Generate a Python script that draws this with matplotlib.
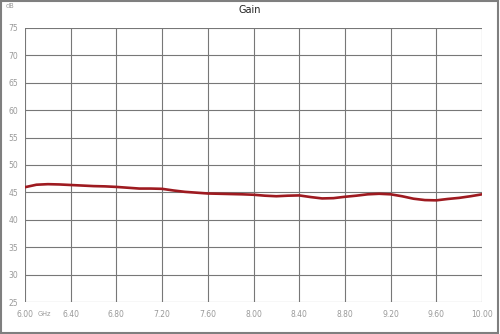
import numpy as np
import matplotlib
matplotlib.use("Agg")
import matplotlib.pyplot as plt
from matplotlib.patches import Rectangle

freq_ghz = [6.0, 6.1, 6.2, 6.3, 6.4, 6.5, 6.6, 6.7, 6.8, 6.9,
            7.0, 7.1, 7.2, 7.3, 7.4, 7.5, 7.6, 7.7, 7.8, 7.9,
            8.0, 8.1, 8.2, 8.3, 8.4, 8.5, 8.6, 8.7, 8.8, 8.9,
            9.0, 9.1, 9.2, 9.3, 9.4, 9.5, 9.6, 9.7, 9.8, 9.9, 10.0]
gain_db = [45.95, 46.4, 46.5, 46.45, 46.35, 46.25, 46.15, 46.1, 46.0, 45.85,
           45.7, 45.7, 45.65, 45.35, 45.1, 44.95, 44.8, 44.75, 44.7, 44.65,
           44.57, 44.4, 44.3, 44.4, 44.45, 44.15, 43.9, 43.95, 44.2, 44.4,
           44.65, 44.75, 44.65, 44.3, 43.85, 43.6, 43.55, 43.8, 44.0, 44.3, 44.65]
x_ticks = [6.0, 6.4, 6.8, 7.2, 7.6, 8.0, 8.4, 8.8, 9.2, 9.6, 10.0]
y_ticks = [25, 30, 35, 40, 45, 50, 55, 60, 65, 70, 75]

fig = plt.figure(figsize=(5.0, 3.34), dpi=100)
ax = fig.add_axes([0.05, 0.0958, 0.914, 0.8204])

ax.plot(freq_ghz, gain_db, color="#9E1A20", lw=1.9, solid_capstyle="round",
        solid_joinstyle="round", zorder=3)

ax.set_xlim(6.0, 10.0)
ax.set_ylim(25, 75)
ax.set_xticks(x_ticks)
ax.set_xticklabels([f"{t:.2f}" for t in x_ticks])
ax.set_yticks(y_ticks)
ax.set_yticklabels([str(t) for t in y_ticks])
ax.grid(True, color="#777777", lw=0.8)
for s in ax.spines.values():
    s.set_visible(False)
ax.tick_params(length=0, labelsize=5.5, labelcolor="#999999", pad=6)
ax.tick_params(axis="y", pad=5)

fig.text(0.5, 0.97, "Gain", ha="center", va="center", fontsize=7, color="#222222")
fig.text(0.012, 0.982, "dB", ha="left", va="center", fontsize=4.8, color="#999999")
fig.text(0.075, 0.061, "GHz", ha="left", va="center", fontsize=4.8, color="#999999")

fig.patches.append(Rectangle((0.002, 0.003), 0.994, 0.994, transform=fig.transFigure,
                             fill=False, edgecolor="#7f7f7f", lw=1.5))

fig.savefig("out.png", dpi=100)
